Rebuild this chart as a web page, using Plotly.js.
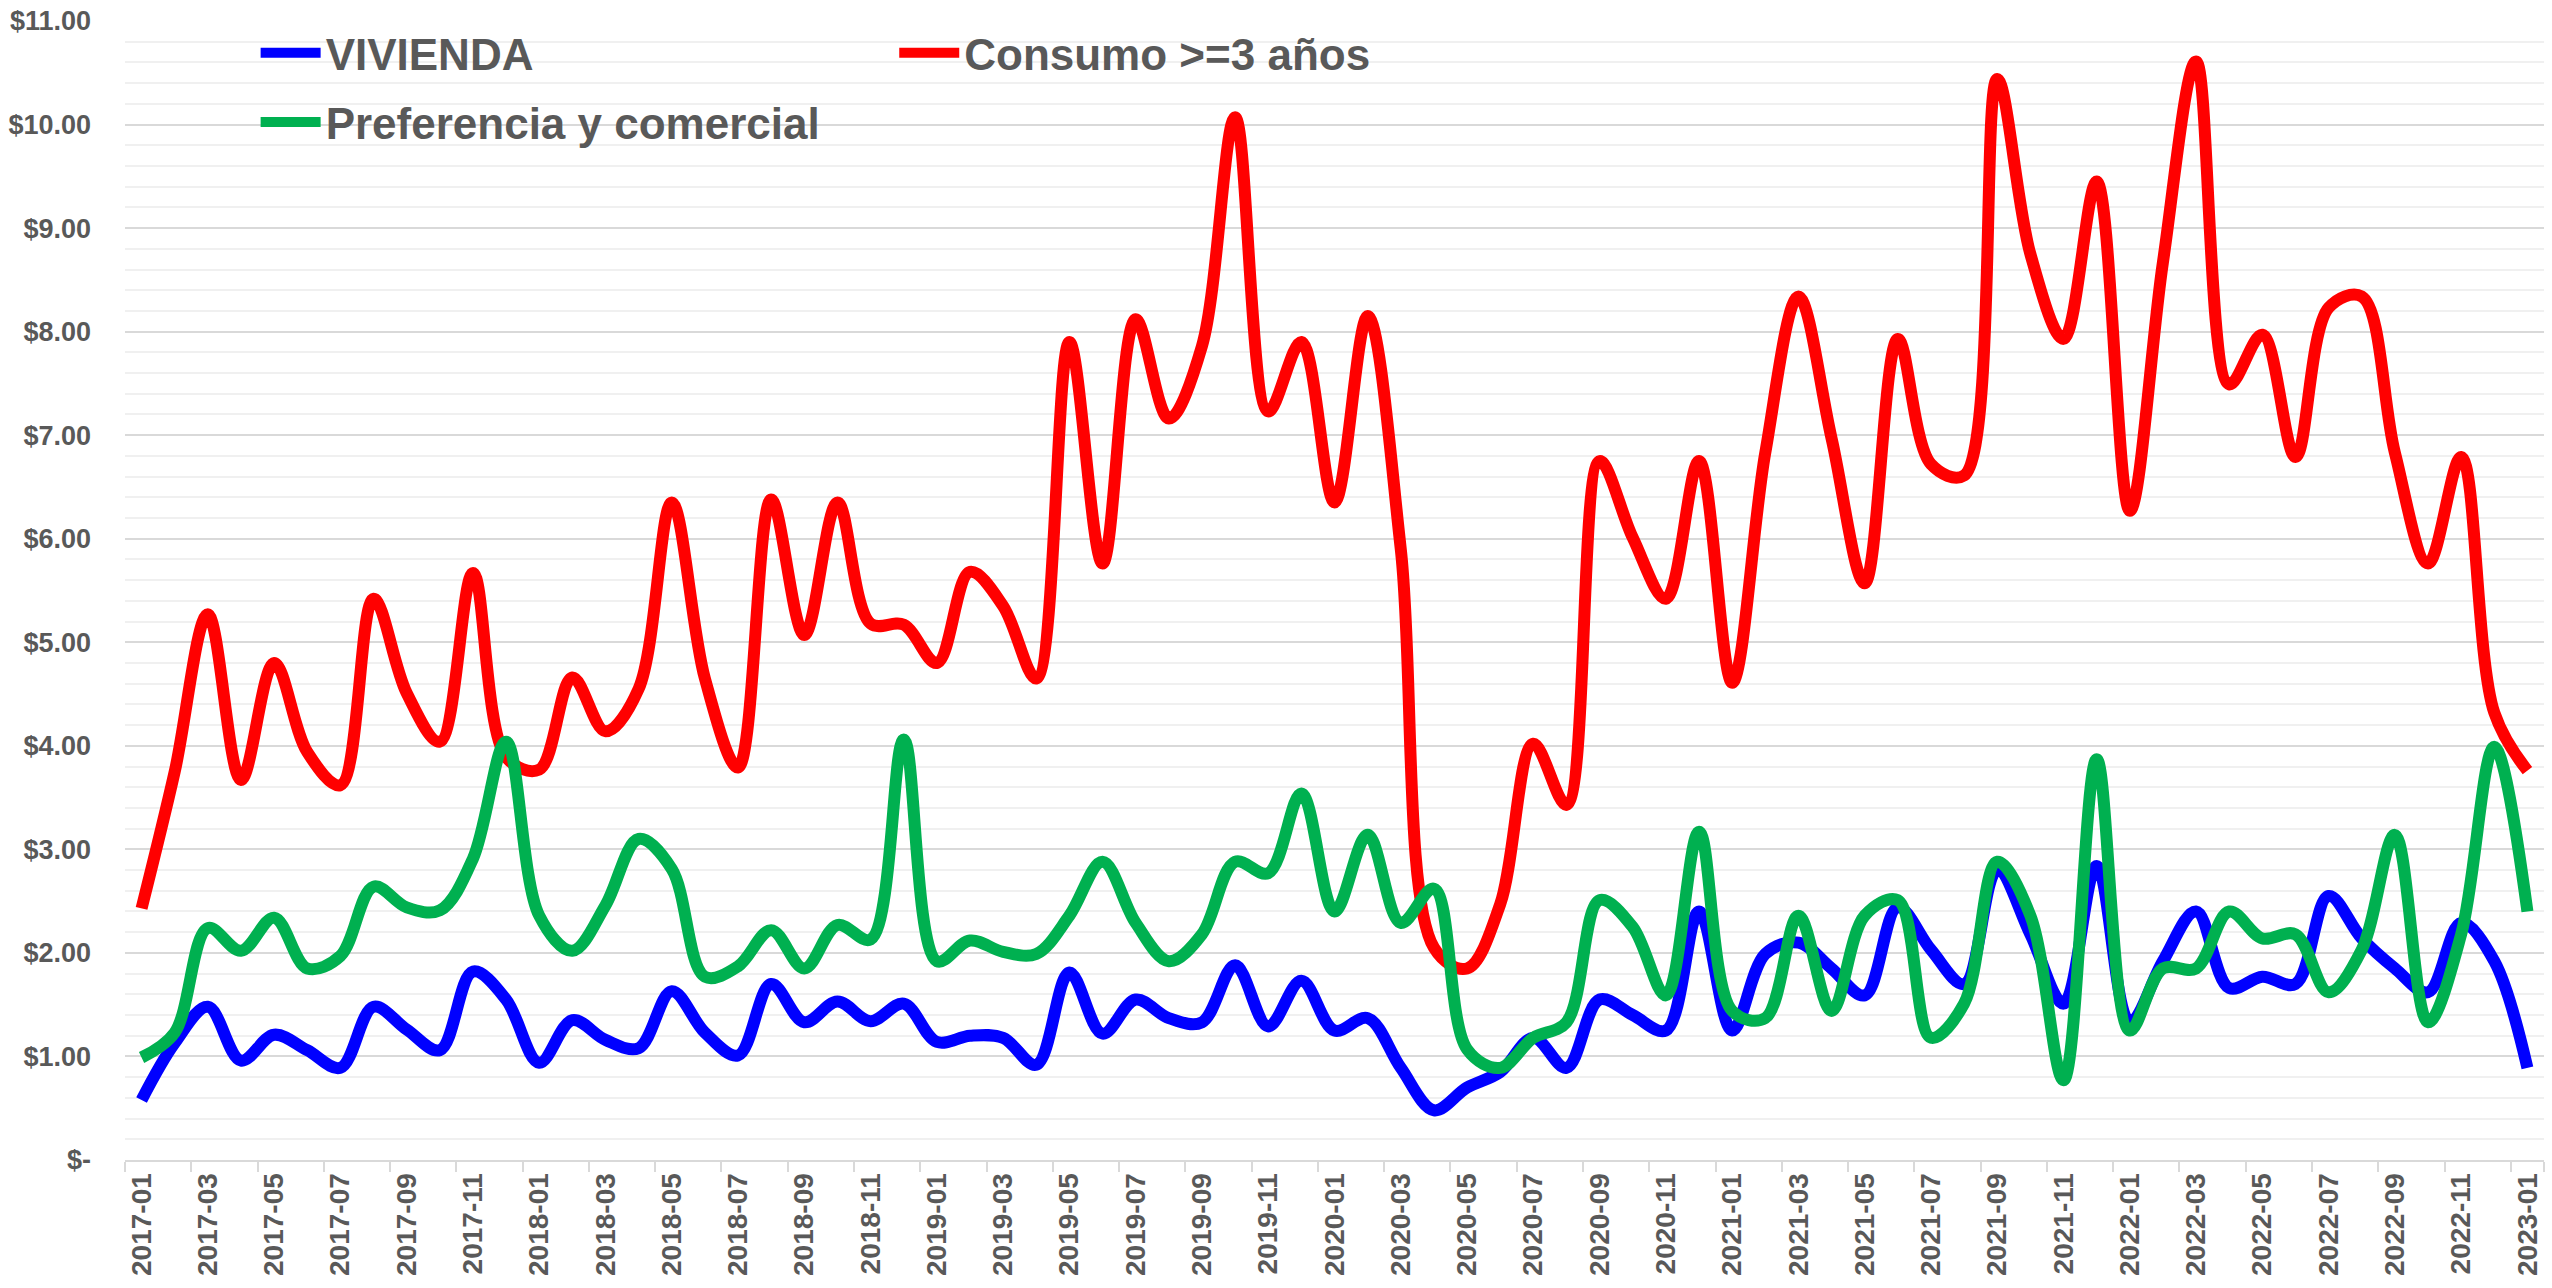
<!DOCTYPE html>
<html>
<head>
<meta charset="utf-8">
<script src="https://cdn.plot.ly/plotly-3.0.1.min.js"></script>
<style>
  html, body { margin: 0; padding: 0; background: #ffffff; }
  #chart { width: 2552px; height: 1288px; }
</style>
</head>
<body>
<div id="chart"></div>
<script>
const months = [
  "2017-01","2017-02","2017-03","2017-04","2017-05","2017-06","2017-07","2017-08","2017-09","2017-10","2017-11","2017-12",
  "2018-01","2018-02","2018-03","2018-04","2018-05","2018-06","2018-07","2018-08","2018-09","2018-10","2018-11","2018-12",
  "2019-01","2019-02","2019-03","2019-04","2019-05","2019-06","2019-07","2019-08","2019-09","2019-10","2019-11","2019-12",
  "2020-01","2020-02","2020-03","2020-04","2020-05","2020-06","2020-07","2020-08","2020-09","2020-10","2020-11","2020-12",
  "2021-01","2021-02","2021-03","2021-04","2021-05","2021-06","2021-07","2021-08","2021-09","2021-10","2021-11","2021-12",
  "2022-01","2022-02","2022-03","2022-04","2022-05","2022-06","2022-07","2022-08","2022-09","2022-10","2022-11","2022-12",
  "2023-01"
];

const vivienda = [
  0.58,1.13,1.48,0.96,1.21,1.06,0.89,1.48,1.26,1.06,1.82,1.55,
  0.94,1.35,1.16,1.08,1.63,1.23,1.01,1.70,1.33,1.53,1.34,1.51,
  1.14,1.20,1.18,0.92,1.81,1.22,1.55,1.37,1.33,1.88,1.29,1.73,
  1.25,1.37,0.89,0.48,0.70,0.85,1.18,0.89,1.55,1.40,1.25,2.40,
  1.25,1.99,2.10,1.85,1.59,2.44,2.03,1.70,2.80,2.18,1.51,2.84,
  1.33,1.92,2.40,1.66,1.77,1.70,2.55,2.14,1.85,1.62,2.29,1.92,
  0.89
];

const consumo = [
  2.43,3.75,5.27,3.67,4.80,3.94,3.62,5.42,4.51,4.04,5.67,3.89,
  3.77,4.66,4.14,4.55,6.35,4.65,3.79,6.38,5.07,6.35,5.18,5.17,
  4.80,5.68,5.35,4.65,7.90,5.76,8.12,7.16,7.86,10.07,7.23,7.90,
  6.35,8.15,5.90,2.05,1.85,2.47,4.02,3.43,6.75,6.01,5.42,6.75,
  4.61,6.83,8.34,6.97,5.57,7.93,6.72,6.61,10.44,8.75,7.93,9.45,
  6.27,8.67,10.61,7.49,7.97,6.79,8.23,8.34,6.83,5.76,6.79,4.32,
  3.76
];

const preferencia = [
  0.99,1.23,2.24,2.02,2.34,1.85,1.97,2.64,2.44,2.41,2.91,4.04,
  2.36,2.02,2.46,3.10,2.81,1.77,1.87,2.22,1.85,2.27,2.13,4.06,
  1.92,2.12,2.01,1.99,2.36,2.88,2.29,1.92,2.18,2.88,2.77,3.54,
  2.40,3.14,2.29,2.62,1.07,0.89,1.18,1.33,2.51,2.25,1.59,3.17,
  1.44,1.37,2.36,1.44,2.36,2.51,1.18,1.51,2.88,2.36,0.77,3.87,
  1.25,1.85,1.85,2.40,2.14,2.18,1.62,2.03,3.14,1.33,2.18,3.99,
  2.40
];

const seriesNames = ["VIVIENDA", "Consumo >=3 años", "Preferencia y comercial"];
const yTickValues = [0,1,2,3,4,5,6,7,8,9,10,11];

const yTickText = yTickValues.map(v => v === 0 ? "$-" : "$" + v.toFixed(2));
const xTickValues = months.filter((m, i) => i % 2 === 0);

const grey = "#595959";
const fam = "'Liberation Sans', Arial, sans-serif";

const lineBase = { shape: "spline", smoothing: 1, width: 12 };

const traces = [
  { x: months, y: vivienda, name: seriesNames[0], type: "scatter", mode: "lines",
    line: Object.assign({}, lineBase, { color: "#0000FF" }), legend: "legend", legendgroup: "a" },
  { x: months, y: consumo, name: seriesNames[1], type: "scatter", mode: "lines",
    line: Object.assign({}, lineBase, { color: "#FF0000" }), legend: "legend2", legendgroup: "b" },
  { x: months, y: preferencia, name: seriesNames[2], type: "scatter", mode: "lines",
    line: Object.assign({}, lineBase, { color: "#00B050" }), legend: "legend", legendgroup: "c" }
];

const layout = {
  width: 2552, height: 1288,
  paper_bgcolor: "#ffffff", plot_bgcolor: "#ffffff",
  margin: { l: 125, r: 8, t: 21, b: 128, pad: 0 },
  showlegend: true,
  xaxis: {
    type: "category",
    range: [-0.5, 72.5],
    tickmode: "array",
    tickvals: xTickValues,
    ticktext: xTickValues,
    tickson: "boundaries",
    ticks: "outside", ticklen: 10, tickwidth: 2, tickcolor: "#d9d9d9",
    showgrid: false,
    showline: true, linecolor: "#d9d9d9", linewidth: 2,
    tickangle: -90,
    tickfont: { family: fam, size: 28, color: grey, weight: "bold" },
    fixedrange: true
  },
  yaxis: {
    range: [0, 11],
    tickmode: "array",
    tickvals: yTickValues,
    ticktext: yTickText,
    showgrid: true, gridcolor: "#d9d9d9", gridwidth: 2,
    minor: { dtick: 0.2, showgrid: true, gridcolor: "#f0f0f0", gridwidth: 2 },
    zeroline: false, showline: false, ticks: "",
    ticklabelstandoff: 33,
    tickfont: { family: fam, size: 27, color: grey, weight: "bold" },
    fixedrange: true
  },
  legend: {
    x: 0.054, y: 1.003, xanchor: "left", yanchor: "top",
    bgcolor: "rgba(0,0,0,0)", borderwidth: 0,
    itemwidth: 60,
    traceorder: "grouped",
    tracegroupgap: 9,
    font: { family: fam, size: 44, color: grey, weight: "bold" }
  },
  legend2: {
    x: 0.318, y: 1.003, xanchor: "left", yanchor: "top",
    bgcolor: "rgba(0,0,0,0)", borderwidth: 0,
    itemwidth: 60,
    font: { family: fam, size: 44, color: grey, weight: "bold" }
  }
};

Plotly.newPlot("chart", traces, layout, { displayModeBar: false, staticPlot: true });
</script>
</body>
</html>
